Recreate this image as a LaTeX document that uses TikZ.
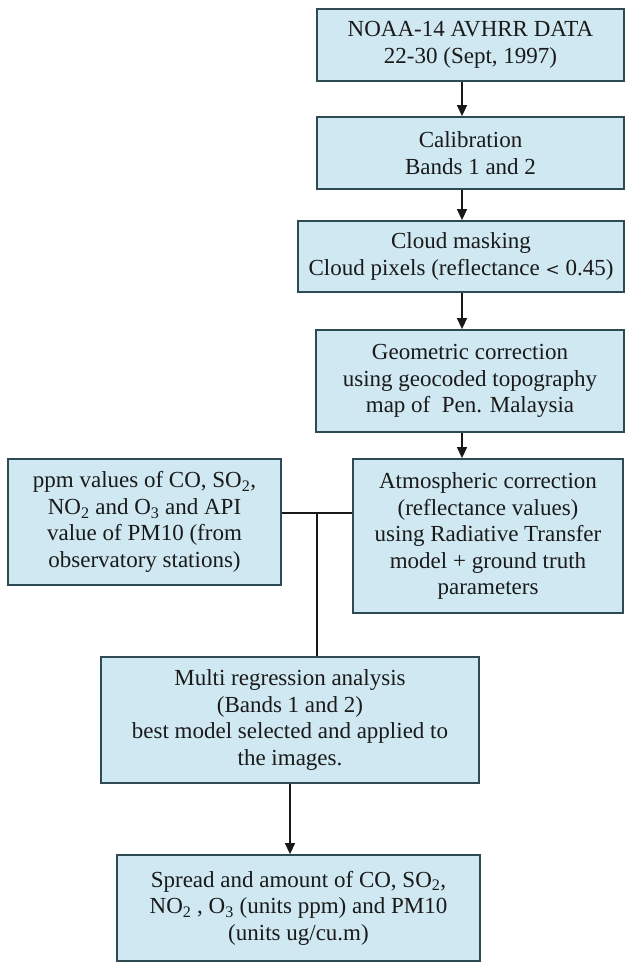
\documentclass[tikz,border=0pt]{standalone}
\usepackage{fontspec}
\setmainfont{Liberation Serif}
\usetikzlibrary{arrows.meta}
\definecolor{boxfill}{HTML}{CFE8F1}
\definecolor{boxline}{HTML}{2E4A52}
\definecolor{txt}{HTML}{1A1A1A}
\tikzset{
  flowbox/.style={draw=boxline, line width=1.8pt, fill=boxfill, inner sep=0pt,
    align=center, text=txt, font=\fontsize{23}{26.5}\selectfont},
  arr/.style={line width=1.4pt, draw=black!90, -{Triangle[length=11pt,width=10pt]}},
  conn/.style={line width=1.4pt, draw=black!90}
}
\begin{document}
\begin{tikzpicture}[x=1pt,y=-1pt]
\useasboundingbox[fill=white] (0,0) rectangle (635,964);
\node[flowbox, minimum width=307pt, minimum height=72pt] (b1) at (470.5,45)
  {NOAA-14 AVHRR DATA\\22-30 (Sept, 1997)};
\node[flowbox, minimum width=307pt, minimum height=72pt] (b2) at (470.5,153)
  {Calibration\\Bands 1 and 2};
\node[flowbox, minimum width=326pt, minimum height=71pt] (b3) at (461,256.5)
  {Cloud masking\\Cloud pixels (reflectance {\fontspec{DejaVu Serif}\fontsize{17}{20}\selectfont<} 0.45)};
\node[flowbox, minimum width=308pt, minimum height=102pt] (b4) at (470,381)
  {Geometric correction\\using geocoded topography\\map of~ Pen. Malaysia};
\node[flowbox, minimum width=270pt, minimum height=154pt] (b5) at (488,536)
  {Atmospheric correction\\(reflectance values)\\using Radiative Transfer\\model + ground truth\\parameters};
\node[flowbox, minimum width=273pt, minimum height=126pt] (b6) at (144.5,522)
  {ppm values of CO, SO\textsubscript{2},\\NO\textsubscript{2} and O\textsubscript{3} and API\\value of PM10 (from\\observatory stations)};
\node[flowbox, minimum width=378pt, minimum height=126pt] (b7) at (290,720)
  {Multi regression analysis\\(Bands 1 and 2)\\best model selected and applied to\\the images.};
\node[flowbox, minimum width=363pt, minimum height=106pt] (b8) at (298.5,908)
  {Spread and amount of CO, SO\textsubscript{2},\\NO\textsubscript{2} , O\textsubscript{3} (units ppm) and PM10\\(units ug/cu.m)};
\coordinate (ax) at (462,0);
\coordinate (j) at (317,513);
\draw[arr] (b1.south -| ax) -- (b2.north -| ax);
\draw[arr] (b2.south -| ax) -- (b3.north -| ax);
\draw[arr] (b3.south -| ax) -- (b4.north -| ax);
\draw[arr] (b4.south -| ax) -- (b5.north -| ax);
\draw[conn] (b6.east |- j) -- (b5.west |- j);
\draw[conn] (j) -- (j |- b7.north);
\draw[arr] (b7.south) -- (b7.south |- b8.north);
\end{tikzpicture}
\end{document}
